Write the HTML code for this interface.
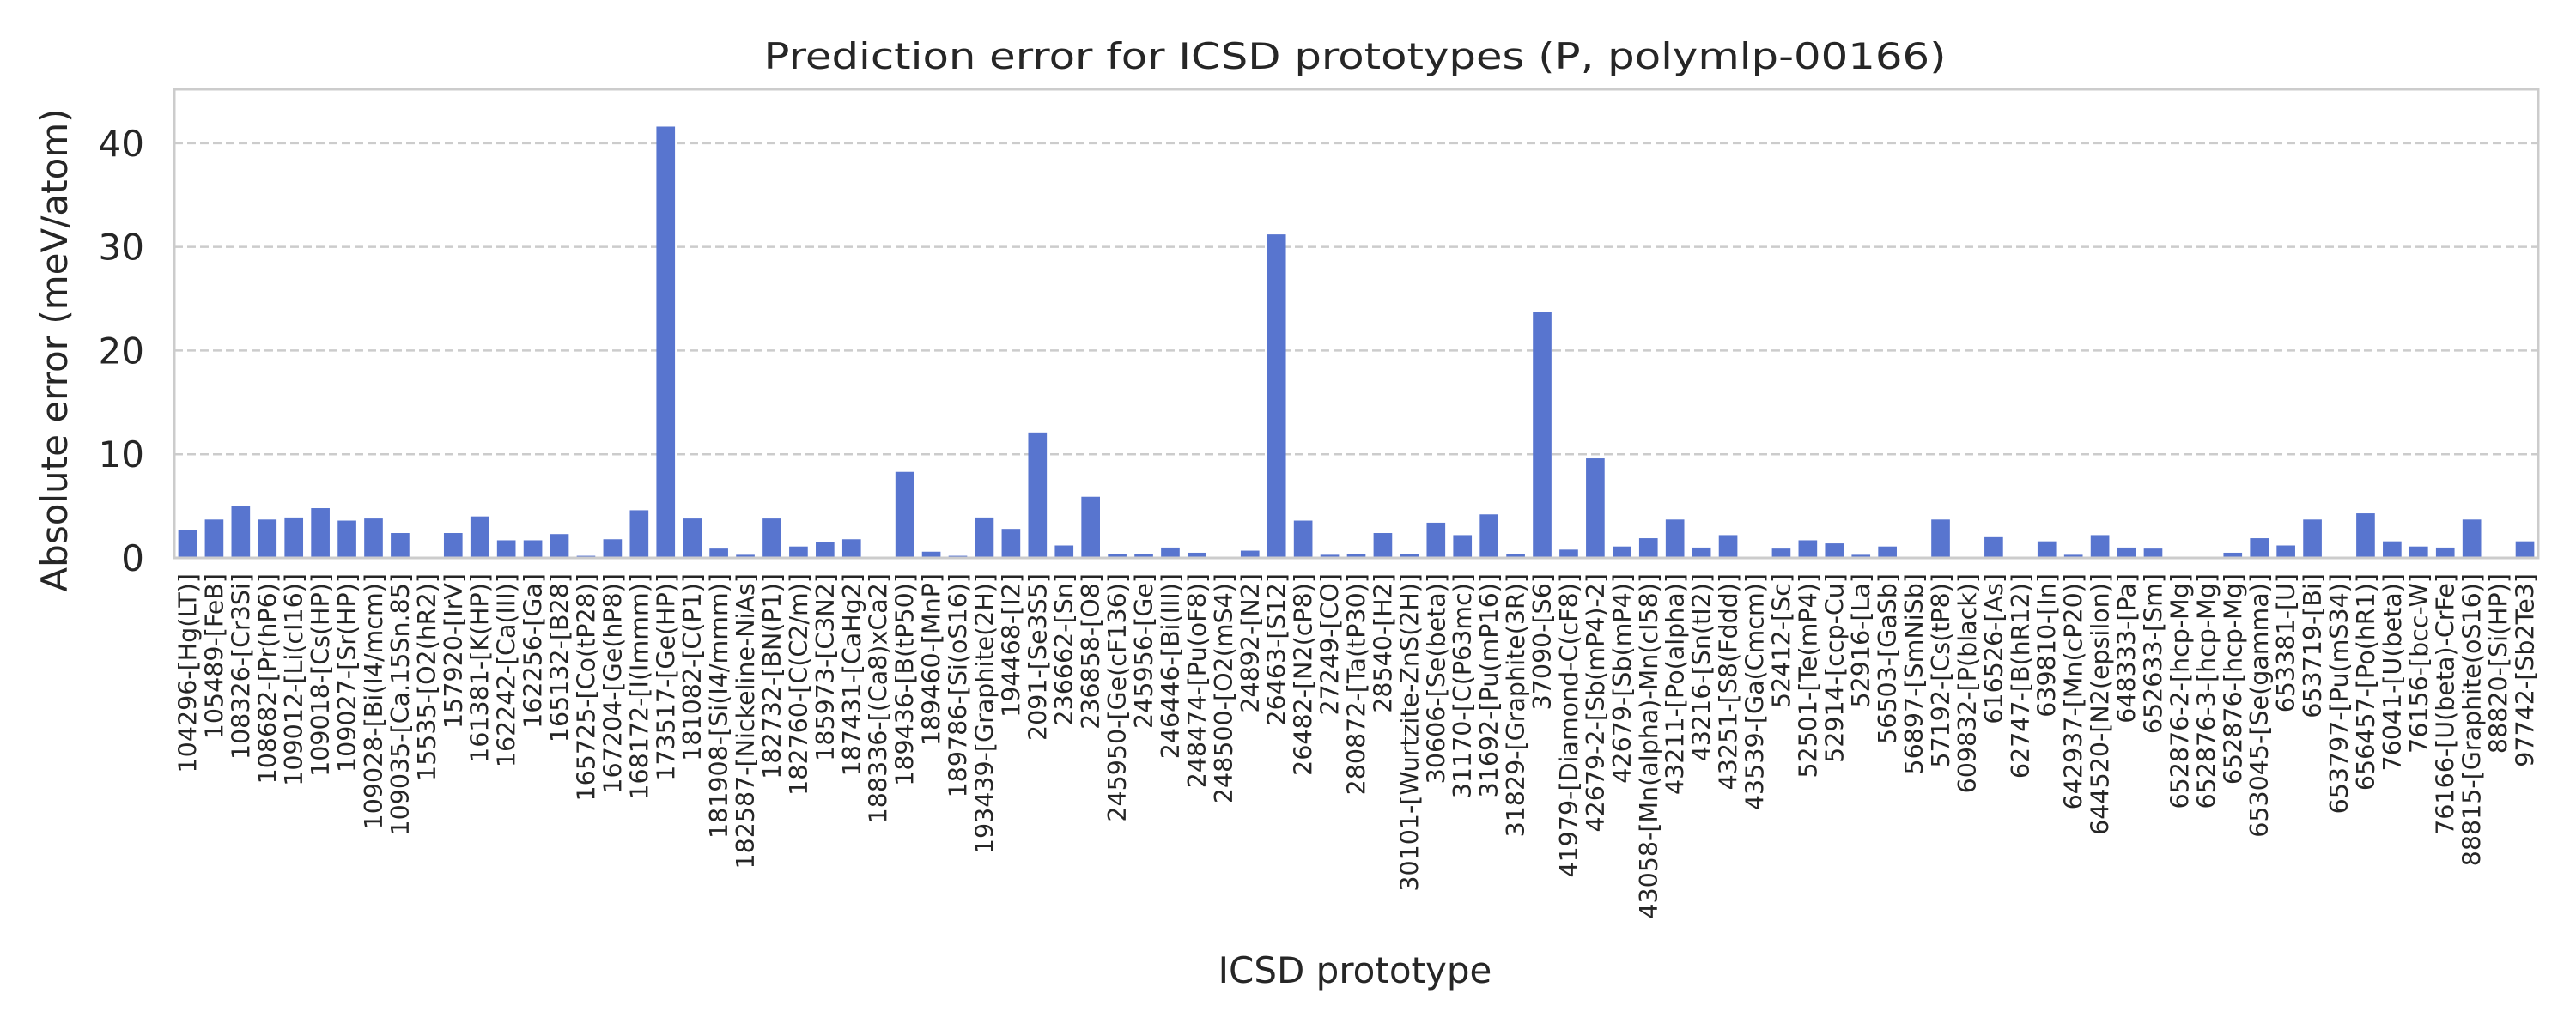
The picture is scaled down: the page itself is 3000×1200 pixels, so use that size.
<!DOCTYPE html>
<html><head><meta charset="utf-8"><style>
html,body{margin:0;padding:0;background:#fff;}
svg{display:block;font-family:"DejaVu Sans","Liberation Sans",sans-serif;}
</style></head><body>
<svg id="chart" width="3000" height="1200" viewBox="0 0 3000 1200">
<rect width="3000" height="1200" fill="#fff"/>
<g id="grid"></g><g id="bars"></g><g id="yticks"></g><g id="xticks"></g>
<rect x="203" y="104" width="2753" height="546" fill="none" stroke="#cccccc" stroke-width="3"/>
<text x="1578" y="80" text-anchor="middle" font-size="42" fill="#262626" textLength="1377" lengthAdjust="spacingAndGlyphs">Prediction error for ICSD prototypes (P, polymlp-00166)</text>
<text x="1578" y="1145" text-anchor="middle" font-size="42" fill="#262626">ICSD prototype</text>
<text transform="translate(78,408) rotate(-90)" text-anchor="middle" font-size="42" fill="#262626">Absolute error (meV/atom)</text>
</svg>
<script>
const categories = ["104296-[Hg(LT)]","105489-[FeB]","108326-[Cr3Si]","108682-[Pr(hP6)]","109012-[Li(cI16)]","109018-[Cs(HP)]","109027-[Sr(HP)]","109028-[Bi(I4/mcm)]","109035-[Ca.15Sn.85]","15535-[O2(hR2)]","157920-[IrV]","161381-[K(HP)]","162242-[Ca(III)]","162256-[Ga]","165132-[B28]","165725-[Co(tP28)]","167204-[Ge(hP8)]","168172-[I(Immm)]","173517-[Ge(HP)]","181082-[C(P1)]","181908-[Si(I4/mmm)]","182587-[Nickeline-NiAs]","182732-[BN(P1)]","182760-[C(C2/m)]","185973-[C3N2]","187431-[CaHg2]","188336-[(Ca8)xCa2]","189436-[B(tP50)]","189460-[MnP]","189786-[Si(oS16)]","193439-[Graphite(2H)]","194468-[I2]","2091-[Se3S5]","236662-[Sn]","236858-[O8]","245950-[Ge(cF136)]","245956-[Ge]","246446-[Bi(III)]","248474-[Pu(oF8)]","248500-[O2(mS4)]","24892-[N2]","26463-[S12]","26482-[N2(cP8)]","27249-[CO]","280872-[Ta(tP30)]","28540-[H2]","30101-[Wurtzite-ZnS(2H)]","30606-[Se(beta)]","31170-[C(P63mc)]","31692-[Pu(mP16)]","31829-[Graphite(3R)]","37090-[S6]","41979-[Diamond-C(cF8)]","42679-2-[Sb(mP4)-2]","42679-[Sb(mP4)]","43058-[Mn(alpha)-Mn(cI58)]","43211-[Po(alpha)]","43216-[Sn(tI2)]","43251-[S8(Fddd)]","43539-[Ga(Cmcm)]","52412-[Sc]","52501-[Te(mP4)]","52914-[ccp-Cu]","52916-[La]","56503-[GaSb]","56897-[SmNiSb]","57192-[Cs(tP8)]","609832-[P(black)]","616526-[As]","62747-[B(hR12)]","639810-[In]","642937-[Mn(cP20)]","644520-[N2(epsilon)]","648333-[Pa]","652633-[Sm]","652876-2-[hcp-Mg]","652876-3-[hcp-Mg]","652876-[hcp-Mg]","653045-[Se(gamma)]","653381-[U]","653719-[Bi]","653797-[Pu(mS34)]","656457-[Po(hR1)]","76041-[U(beta)]","76156-[bcc-W]","76166-[U(beta)-CrFe]","88815-[Graphite(oS16)]","88820-[Si(HP)]","97742-[Sb2Te3]"];
const errors = [2.7,3.7,5.0,3.7,3.9,4.8,3.6,3.8,2.4,0,2.4,4.0,1.7,1.7,2.3,0.2,1.8,4.6,41.6,3.8,0.9,0.3,3.8,1.1,1.5,1.8,0,8.3,0.6,0.2,3.9,2.8,12.1,1.2,5.9,0.4,0.4,1.0,0.5,0,0.7,31.2,3.6,0.3,0.4,2.4,0.4,3.4,2.2,4.2,0.4,23.7,0.8,9.6,1.1,1.9,3.7,1.0,2.2,0,0.9,1.7,1.4,0.3,1.1,0,3.7,0,2.0,0,1.6,0.3,2.2,1.0,0.9,0,0,0.5,1.9,1.2,3.7,0,4.3,1.6,1.1,1.0,3.7,0,1.6];
const yTicks = [0,10,20,30,40];
const yMax = 45.2;

const NS = "http://www.w3.org/2000/svg";
const L = 203, R = 2956, T = 104, B = 650;
const step = (R - L) / categories.length;
const xc = i => L + step * (i + 0.5);
const ys = v => B - (v / yMax) * (B - T);
function mk(tag, attrs, parent) {
  const e = document.createElementNS(NS, tag);
  for (const k in attrs) e.setAttribute(k, attrs[k]);
  parent.appendChild(e);
  return e;
}
const grid = document.getElementById('grid'), bars = document.getElementById('bars');
const yt = document.getElementById('yticks'), xt = document.getElementById('xticks');
yTicks.forEach(t => {
  if (t > 0) {
    const g = mk('line', {x1: L, x2: R, y1: ys(t), y2: ys(t), stroke: '#cccccc', 'stroke-width': 2.5, 'stroke-dasharray': '10 5'}, grid);
    
    
  }
  const tx = mk('text', {x: 168, y: ys(t) + 15, 'text-anchor': 'end', 'font-size': 42, fill: '#262626'}, yt);
  tx.textContent = t;
  
  
});
const bw = step * 0.7;
categories.forEach((c, i) => {
  const v = errors[i];
  const r = mk('rect', {x: xc(i) - bw / 2, y: ys(v), width: bw, height: B - ys(v), fill: '#5875cf'}, bars);
  
  
  const x = xc(i) + 10, y = 668;
  const t = mk('text', {x: x, y: y, transform: 'rotate(-90 ' + x + ' ' + y + ')', 'text-anchor': 'end', 'font-size': 28.5, fill: '#262626'}, xt);
  t.textContent = c;
  
  
});
</script>
</body></html>
